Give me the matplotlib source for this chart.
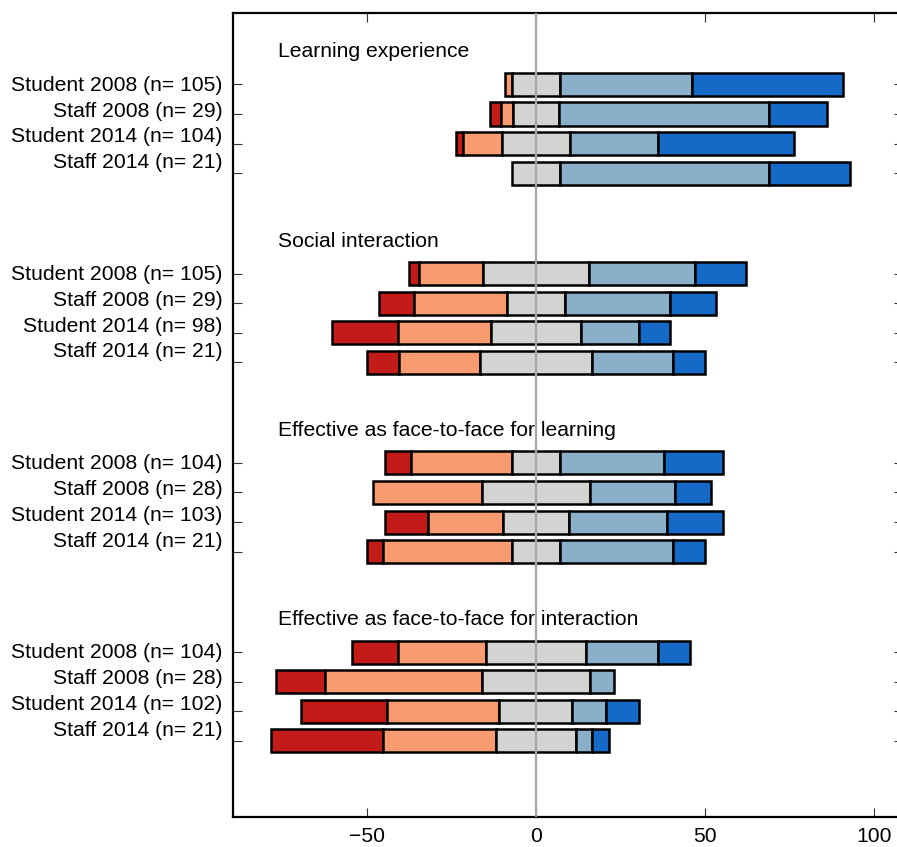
import numpy as np
import matplotlib
matplotlib.use('Agg')
import matplotlib.pyplot as plt
from matplotlib.transforms import blended_transform_factory

plt.rcParams['font.family'] = ['Liberation Sans', 'DejaVu Sans']

# percentages: strongly disagree, disagree, neutral, agree, strongly agree
group_titles = ['Learning experience', 'Social interaction',
                'Effective as face-to-face for learning',
                'Effective as face-to-face for interaction']

learning = [[0.0, 1.9, 14.3, 39.0, 44.8],
            [3.4, 3.4, 13.8, 62.1, 17.2],
            [1.9, 11.5, 20.2, 26.0, 40.4],
            [0.0, 0.0, 14.3, 61.9, 23.8]]
social = [[2.9, 19.0, 31.4, 31.4, 15.2],
          [10.3, 27.6, 17.2, 31.0, 13.8],
          [19.4, 27.6, 26.5, 17.3, 9.2],
          [9.5, 23.8, 33.3, 23.8, 9.5]]
f2f_learning = [[7.7, 29.8, 14.4, 30.8, 17.3],
                [0.0, 32.1, 32.1, 25.0, 10.7],
                [12.6, 22.3, 19.4, 29.1, 16.5],
                [4.8, 38.1, 14.3, 33.3, 9.5]]
f2f_interaction = [[13.5, 26.0, 29.8, 21.2, 9.6],
                   [14.3, 46.4, 32.1, 7.1, 0.0],
                   [25.5, 33.3, 21.6, 9.8, 9.8],
                   [33.3, 33.3, 23.8, 4.8, 4.8]]

row_labels = [['Student 2008 (n= 105)', 'Staff 2008 (n= 29)', 'Student 2014 (n= 104)', 'Staff 2014 (n= 21)'],
              ['Student 2008 (n= 105)', 'Staff 2008 (n= 29)', 'Student 2014 (n= 98)', 'Staff 2014 (n= 21)'],
              ['Student 2008 (n= 104)', 'Staff 2008 (n= 28)', 'Student 2014 (n= 103)', 'Staff 2014 (n= 21)'],
              ['Student 2008 (n= 104)', 'Staff 2008 (n= 28)', 'Student 2014 (n= 102)', 'Staff 2014 (n= 21)']]

colors = ['#c21b18', '#f99b70', '#d3d3d2', '#8ab0c9', '#156ac8']

groups = [learning, social, f2f_learning, f2f_interaction]
group_gap = 6.39

fig = plt.figure(figsize=(8.97, 8.47), dpi=100)
ax = fig.add_axes([233 / 897, 30 / 847, 670 / 897, 804 / 847])

trans = blended_transform_factory(ax.transAxes, ax.transData)
yticks = []
for g, data in enumerate(groups):
    y0 = g * group_gap
    for i, row in enumerate(data):
        y = y0 + i
        yticks.append(y)
        left = -row[2] / 2 - row[1] - row[0]
        for k, w in enumerate(row):
            if w > 0:
                ax.barh(y, w, left=left, height=0.78, color=colors[k],
                        edgecolor='black', linewidth=1.8, zorder=2)
            left += w
        ax.text(-0.0154, y0 + i * 0.872 + 0.03, row_labels[g][i], transform=trans,
                ha='right', va='center', fontsize=15.2)
    ax.text(-76.3, y0 - 1.1, group_titles[g], ha='left', va='center', fontsize=15.2)

ax.axvline(0, color='#a6a6a6', lw=1.6, zorder=3)

ax.set_xlim(-89.6, 108.6)
ax.set_ylim(3 * group_gap + 3 + 2.57, -2.41)
ax.set_xticks([-50, 0, 50, 100])
ax.set_yticks(yticks)
ax.set_yticklabels([])
ax.tick_params(direction='in', top=True, right=True, length=6.5, width=0.8,
               color='#333333', labelsize=15.2, pad=7.5)
for s in ax.spines.values():
    s.set_linewidth(1.6)

fig.savefig('out.png', dpi=100)
